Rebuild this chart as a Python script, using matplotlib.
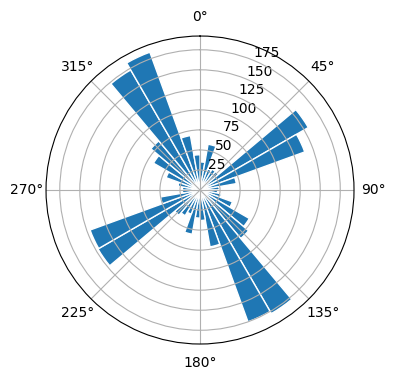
import numpy as np
import matplotlib
matplotlib.use("Agg")
import matplotlib.pyplot as plt

# bin starts in degrees (clockwise from north), 10 degree bins
bin_start_deg = [0, 10, 20, 30, 40, 50, 60, 70, 80,
                 90, 100, 110, 120, 130, 140, 150, 160, 170,
                 180, 190, 200, 210, 220, 230, 240, 250, 260,
                 270, 280, 290, 300, 310, 320, 330, 340, 350]
counts = [35, 58, 28, 30, 30, 156, 139, 46, 24,
          22, 27, 43, 71, 79, 178, 175, 72, 38,
          35, 56, 32, 37, 41, 147, 146, 50, 22,
          22, 28, 45, 67, 80, 173, 183, 69, 44]
bin_width_deg = 10

fig = plt.figure(figsize=(3.96, 3.80), dpi=100)
ax = fig.add_axes([0.1162, 0.0947, 0.7778, 0.8105], projection="polar")
ax.set_theta_zero_location("N")
ax.set_theta_direction(-1)

ax.bar(np.deg2rad(bin_start_deg), counts, width=np.deg2rad(bin_width_deg),
       align="edge", color="#1f77b4", edgecolor="white")

fig.savefig("out.png", dpi=100)
